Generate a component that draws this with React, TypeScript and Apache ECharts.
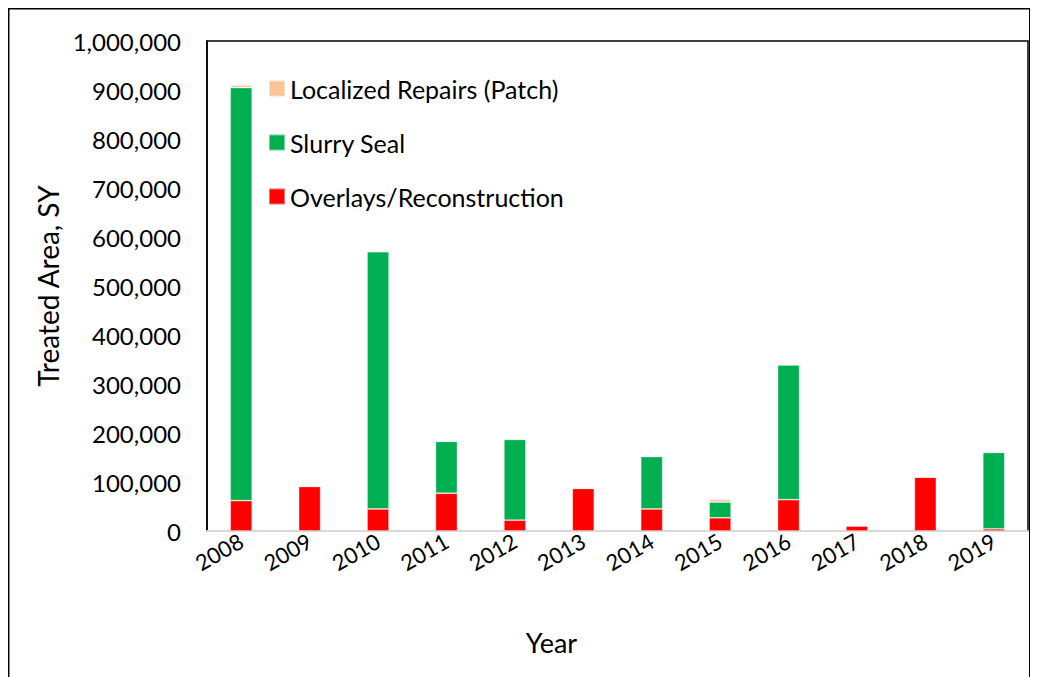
import React, { useEffect, useRef } from "react";
import * as echarts from "echarts";

const years = ["2008", "2009", "2010", "2011", "2012", "2013", "2014", "2015", "2016", "2017", "2018", "2019"];
const overlays = [62000, 91000, 45000, 77000, 22000, 87000, 45000, 27000, 64000, 10500, 110000, 4500];
const slurry = [843000, 0, 525000, 106000, 165000, 0, 107000, 32000, 275000, 0, 0, 156000];
const patch = [5000, 0, 0, 0, 0, 0, 0, 5500, 0, 0, 0, 0];

const FONT = "Lato";

export default function App() {
  const ref = useRef<HTMLDivElement>(null);
  useEffect(() => {
    const chart = echarts.init(ref.current!, null, { renderer: "svg" });
    const barStyle = (color: string) => ({ color, borderColor: "rgba(255,255,255,0.45)", borderWidth: 0.8 });
    chart.setOption({
      animation: false,
      textStyle: { fontFamily: FONT, color: "#000" },
      grid: { left: 199, top: 33, right: 10, bottom: 146, show: true, borderColor: "#000", borderWidth: 1.5, containLabel: false },
      legend: {
        orient: "vertical",
        left: 255,
        top: 63,
        itemWidth: 16,
        itemHeight: 16,
        itemGap: 29,
        icon: "rect",
        textStyle: { fontFamily: FONT, fontSize: 25, color: "#000" },
        data: ["Localized Repairs (Patch)", "Slurry Seal", "Overlays/Reconstruction"],
      },
      xAxis: {
        type: "category",
        data: years,
        name: "Year",
        nameLocation: "middle",
        nameGap: 98,
        nameTextStyle: { fontFamily: FONT, fontSize: 27, color: "#000", padding: [0, 132, 0, 0] },
        axisLine: { lineStyle: { color: "#d9d9d9", width: 2 } },
        axisTick: { show: false },
        axisLabel: { rotate: 30, fontFamily: FONT, fontSize: 22, color: "#000", margin: 8 },
      },
      yAxis: {
        type: "value",
        min: 0,
        max: 1000000,
        interval: 100000,
        name: "Treated Area, SY",
        nameLocation: "middle",
        nameGap: 118,
        nameTextStyle: { fontFamily: FONT, fontSize: 28, color: "#000" },
        axisLine: { show: true, lineStyle: { color: "#000", width: 1.5 } },
        axisTick: { show: false },
        splitLine: { show: false },
        axisLabel: {
          fontFamily: FONT,
          fontSize: 24,
          color: "#000",
          margin: 26,
          formatter: (v: number) => v.toLocaleString("en-US"),
        },
      },
      graphic: [
        {
          type: "rect",
          shape: { x: 0.75, y: 0.75, width: 1021, height: 700 },
          style: { fill: "none", stroke: "#000", lineWidth: 1.5 },
          silent: true,
        },
      ],
      series: [
        { name: "Overlays/Reconstruction", type: "bar", stack: "a", barWidth: 22, data: overlays, itemStyle: barStyle("#FF0000") },
        { name: "Slurry Seal", type: "bar", stack: "a", barWidth: 22, data: slurry, itemStyle: barStyle("#00B050") },
        { name: "Localized Repairs (Patch)", type: "bar", stack: "a", barWidth: 22, data: patch, itemStyle: barStyle("#F8C498") },
      ],
    });
    return () => chart.dispose();
  }, []);
  return <div ref={ref} style={{ width: 1030, height: 669 }} />;
}
